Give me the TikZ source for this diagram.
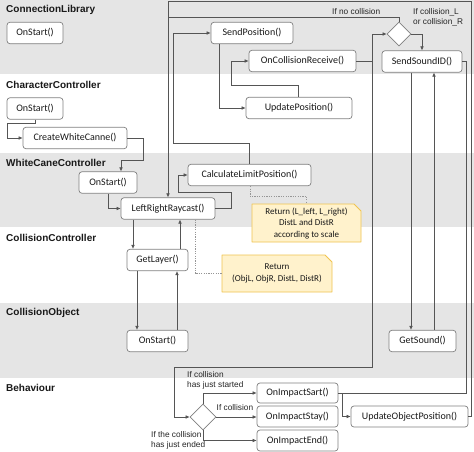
\documentclass[tikz,border=0pt]{standalone}
\usepackage{fontspec}
\setmainfont{Liberation Sans}
\newfontfamily\calib{Carlito}
\usetikzlibrary{arrows.meta,shapes.geometric,calc}

\definecolor{band}{RGB}{229,229,229}
\definecolor{boxline}{RGB}{128,128,128}
\definecolor{conline}{RGB}{85,85,85}
\definecolor{notefill}{RGB}{255,242,204}
\definecolor{noteline}{RGB}{240,196,80}
\definecolor{dotline}{RGB}{150,150,150}

\begin{document}
\begin{tikzpicture}[x=1pt,y=-1pt,
 fn/.style={draw=boxline, line width=0.7pt, rounded corners=3pt, fill=white, inner sep=0pt, minimum height=21.5pt, font=\calib\fontsize{10}{12}\selectfont, text=black!90},
 lane/.style={anchor=west, inner sep=0pt, font=\bfseries\fontsize{10}{12}\selectfont, text=black!90},
 conn/.style={draw=conline, line width=0.6pt},
 arr/.style={conn, -{Latex[length=4pt,width=3.6pt]}},
 dotc/.style={draw=dotline, line width=0.6pt, dash pattern=on 1.2pt off 1.2pt},
 cond/.style={inner sep=0pt, font=\fontsize{8.3}{10.5}\selectfont, align=left, text=black!85},
 dec/.style={diamond, draw=boxline, line width=0.7pt, fill=white, inner sep=0pt, minimum width=24pt, minimum height=24pt},
 notetext/.style={inner sep=0pt, align=center, font=\calib\fontsize{9}{11.5}\selectfont, text=black!90},
 noteshape/.style={fill=notefill, draw=noteline, line width=0.8pt, line join=round}
]
\useasboundingbox (0,0) rectangle (474,452);
\fill[white] (0,0) rectangle (474,452);
% lanes
\fill[band] (0,0) rectangle (474,74);
\fill[band] (0,153) rectangle (474,227);
\fill[band] (0,303) rectangle (474,378);

\node[lane] (lCL) at (6,10) {ConnectionLibrary};
\node[lane] (lCC) at (6,85) {CharacterController};
\node[lane] (lWC) at (6,163) {WhiteCaneController};
\node[lane] (lCoC) at (6,238) {CollisionController};
\node[lane] (lCO) at (6,313) {CollisionObject};
\node[lane] (lB) at (6,388) {Behaviour};

% notes (shapes)
\path[noteshape] (252,204) -- (354,204) -- (361,211) -- (361,242) -- (252,242) -- cycle;
\path[noteshape] (222,255) -- (325,255) -- (332,262) -- (332,292) -- (222,292) -- cycle;
\node[notetext, minimum width=109pt, minimum height=38pt] (note1) at (306.5,223) {Return (L\_left, L\_right)\\DistL and DistR\\according to scale};
\node[notetext, minimum width=110pt, minimum height=37pt] (note2) at (277,273.5) {Return\\(ObjL, ObjR, DistL, DistR)};

% function nodes
\node[fn, minimum width=56pt] (clStart) at (35,33) {OnStart()};
\node[fn, minimum width=82pt] (sendPos) at (252,33) {SendPosition()};
\node[fn, minimum width=107pt] (onColRecv) at (302.5,61) {OnCollisionReceive()};
\node[fn, minimum width=80pt] (sendSound) at (422,61.5) {SendSoundID()};
\node[fn, minimum width=106pt] (updPos) at (299,108) {UpdatePosition()};
\node[fn, minimum width=56pt] (ccStart) at (35,108.5) {OnStart()};
\node[fn, minimum width=104pt] (createWC) at (75,138) {CreateWhiteCanne()};
\node[fn, minimum width=58pt] (wcStart) at (108,182.5) {OnStart()};
\node[fn, minimum width=123pt] (calcLim) at (249.5,175) {CalculateLimitPosition()};
\node[fn, minimum width=94pt] (lrRay) at (168,208.5) {LeftRightRaycast()};
\node[fn, minimum width=61pt] (getLayer) at (157.5,260) {GetLayer()};
\node[fn, minimum width=61pt] (coStart) at (157.5,341) {OnStart()};
\node[fn, minimum width=67pt] (getSound) at (422.5,341) {GetSound()};
\node[fn, minimum width=81pt, minimum height=20pt] (impStart) at (297.5,393) {OnImpactSart()};
\node[fn, minimum width=81pt, minimum height=21pt] (impStay) at (297.5,416.5) {OnImpactStay()};
\node[fn, minimum width=81pt, minimum height=21pt] (impEnd) at (297.5,440.5) {OnImpactEnd()};
\node[fn, minimum width=117pt, minimum height=21pt] (updObj) at (409.5,416.5) {UpdateObjectPosition()};

\node[dec] (dTop) at (399,34) {};
\node[dec, minimum width=26pt, minimum height=26pt] (dBot) at (203,417) {};

% condition labels
\node[cond, anchor=west] (cNo) at (332,12) {If no collision};
\node[cond, anchor=north west] (cLR) at (413,8) {If collision\_L\\or collision\_R};
\node[cond, anchor=north west] (cStart) at (187,371) {If collision\\has just started};
\node[cond, anchor=west] (cStay) at (216.5,407.5) {If collision};
\node[cond, anchor=north west] (cEnd) at (151,431) {If the collision\\has just ended};

% connectors
\draw[arr] (ccStart.south) -- (35,123) -- (7,123) |- (createWC.west);
\draw[arr] (createWC.east) -| (143,160) -| ([xshift=13pt]wcStart.north);
\draw[arr] (wcStart.south) |- (lrRay.west);
\draw[arr] (lrRay.east) -| (231,192) -| (178,175) -- (calcLim.west);
\draw[arr] (calcLim.north) |- (173,143) |- (sendPos.west);
\draw[arr] ([xshift=-33pt]sendPos.south) |- (updPos.west);
\draw[arr] ([xshift=-1pt]updPos.north) |- (231,85) |- (onColRecv.west);
\coordinate (jct) at (372,61);
\draw[arr] (onColRecv.east) -- (jct) |- (dTop.west);
\draw[arr] (jct) |- (174,367) |- (dBot.west);
\draw[arr] (dTop.north) |- (168,17) -- (lrRay.north);
\draw[arr] (dTop.east) -| (sendSound.north);
\draw[conn] (updObj.east) -| (471,1) -| (168,17);
\coordinate (jct2) at (342,393);
\draw[arr] (sendSound.east) -| (466,393) -- (jct2) |- (updObj.west);
\draw[conn] (impStart.east) -- (jct2);

\draw[arr] ([xshift=-11pt]sendSound.south) -- ([xshift=-11.5pt]getSound.north);
\draw[arr] ([xshift=11.5pt]getSound.north) -- ([xshift=12pt]sendSound.south);
\draw[arr] ([xshift=-35pt]lrRay.south) -- ([xshift=-24.5pt]getLayer.north);
\draw[arr] ([xshift=22.5pt]getLayer.north) -- ([xshift=12pt]lrRay.south);
\draw[arr] ([xshift=-20.5pt]getLayer.south) -- ([xshift=-20.5pt]coStart.north);
\draw[arr] ([xshift=19.5pt]coStart.north) -- ([xshift=19.5pt]getLayer.south);

\draw[dotc] ([xshift=27pt]lrRay.south) |- (note2.west);
\draw[dotc] ([xshift=0.5pt]calcLim.south) -- ++(0,10) -| (note1.north);

\draw[arr] (dBot.north) |- (impStart.west);
\draw[arr] (dBot.east) -- (dBot.east -| impStay.west);
\draw[arr] (dBot.south) |- (impEnd.west);
\end{tikzpicture}
\end{document}
